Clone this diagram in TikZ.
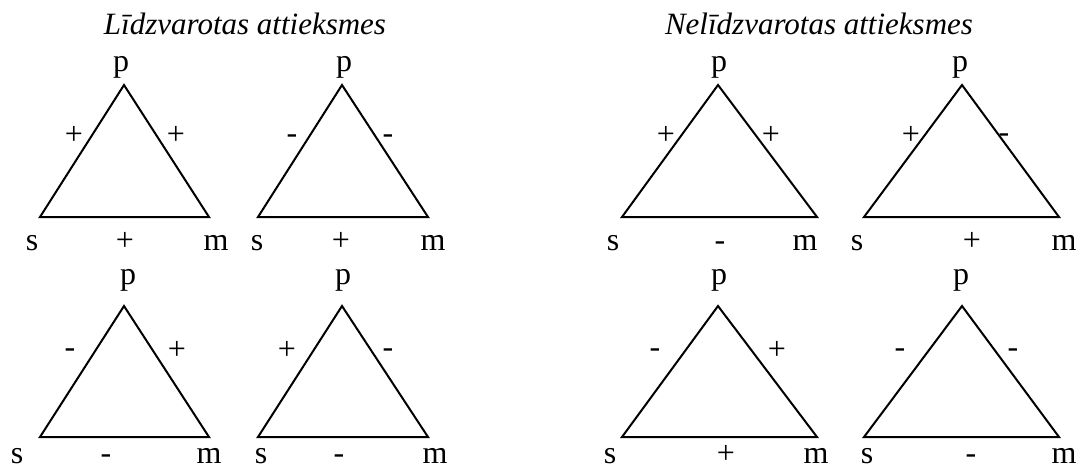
\documentclass[tikz,border=0pt]{standalone}
\usepackage{fontspec}
\setmainfont{Liberation Serif}
\begin{document}
\begin{tikzpicture}[x=1pt,y=-1pt,
  lbl/.style={anchor=base, inner sep=0pt, font=\fontsize{32}{38}\selectfont},
  ttl/.style={anchor=base, inner sep=0pt, font=\fontsize{31}{37}\selectfont\itshape},
  triline/.style={line width=2pt, line join=miter}]
\useasboundingbox (0,0) rectangle (1077,467);
% titles
\node[ttl] (t1) at (245,34) {Līdzvarotas attieksmes};
\node[ttl] (t2) at (819,34) {Nelīdzvarotas attieksmes};
% triangle vertices
\coordinate (p1) at (124,85);  \coordinate (s1) at (40,217);  \coordinate (m1) at (209,217);
\coordinate (p2) at (342,85);  \coordinate (s2) at (258,217); \coordinate (m2) at (428,217);
\coordinate (p3) at (718,85);  \coordinate (s3) at (622,217); \coordinate (m3) at (817,217);
\coordinate (p4) at (962,85);  \coordinate (s4) at (864,217); \coordinate (m4) at (1059,217);
\coordinate (p5) at (124,306); \coordinate (s5) at (40,437);  \coordinate (m5) at (209,437);
\coordinate (p6) at (342,306); \coordinate (s6) at (258,437); \coordinate (m6) at (428,437);
\coordinate (p7) at (718,306); \coordinate (s7) at (622,437); \coordinate (m7) at (817,437);
\coordinate (p8) at (962,306); \coordinate (s8) at (864,437); \coordinate (m8) at (1059,437);
\foreach \i in {1,...,8}{\draw[triline] (p\i) -- (m\i) -- (s\i) -- cycle;}
% vertex labels, top row
\node[lbl] (lp1) at (121,71) {p};
\node[lbl] (lp2) at (344,71) {p};
\node[lbl] (lp3) at (719,71) {p};
\node[lbl] (lp4) at (960,71) {p};
\node[lbl] (ls1) at (32,250) {s};  \node[lbl] (lm1) at (216,250) {m};
\node[lbl] (ls2) at (257,250) {s}; \node[lbl] (lm2) at (433,250) {m};
\node[lbl] (ls3) at (613,250) {s}; \node[lbl] (lm3) at (805,250) {m};
\node[lbl] (ls4) at (857,250) {s}; \node[lbl] (lm4) at (1064,250) {m};
% vertex labels, bottom row
\node[lbl] (lp5) at (128,284) {p};
\node[lbl] (lp6) at (343,284) {p};
\node[lbl] (lp7) at (719,284) {p};
\node[lbl] (lp8) at (961,284) {p};
\node[lbl] (ls5) at (17,463) {s};  \node[lbl] (lm5) at (209,463) {m};
\node[lbl] (ls6) at (261,463) {s}; \node[lbl] (lm6) at (435,463) {m};
\node[lbl] (ls7) at (610,463) {s}; \node[lbl] (lm7) at (816,463) {m};
\node[lbl] (ls8) at (867,463) {s}; \node[lbl] (lm8) at (1064,463) {m};
% sign labels, top row
\node[lbl] (a1) at (74,144) {+};   \node[lbl] (b1) at (176,144) {+};  \node[lbl] (c1) at (125,250) {+};
\node[lbl] (a2) at (292,143) {-};  \node[lbl] (b2) at (388,143) {-};  \node[lbl] (c2) at (341,250) {+};
\node[lbl] (a3) at (666,144) {+};  \node[lbl] (b3) at (771,144) {+};  \node[lbl] (c3) at (720,250) {-};
\node[lbl] (a4) at (911,144) {+};  \node[lbl] (b4) at (1004,142) {-}; \node[lbl] (c4) at (972,250) {+};
% sign labels, bottom row
\node[lbl] (a5) at (70,357) {-};   \node[lbl] (b5) at (177,359) {+};  \node[lbl] (c5) at (106,463) {-};
\node[lbl] (a6) at (287,359) {+};  \node[lbl] (b6) at (388,357) {-};  \node[lbl] (c6) at (339,463) {-};
\node[lbl] (a7) at (655,357) {-};  \node[lbl] (b7) at (777,359) {+};  \node[lbl] (c7) at (726,463) {+};
\node[lbl] (a8) at (900,357) {-};  \node[lbl] (b8) at (1013,357) {-}; \node[lbl] (c8) at (971,463) {-};
\end{tikzpicture}
\end{document}
